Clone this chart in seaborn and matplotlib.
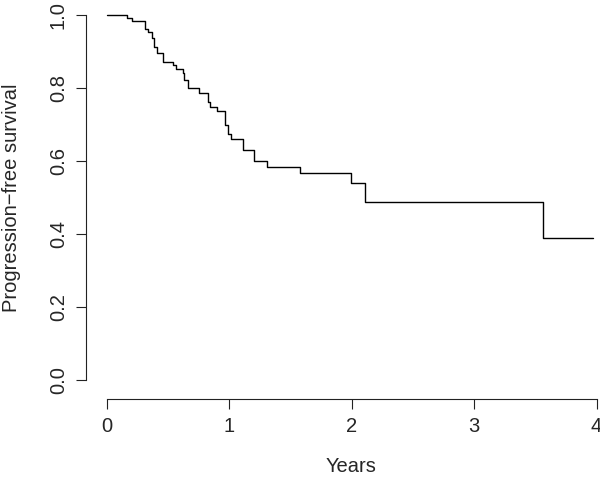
import matplotlib
matplotlib.use("Agg")
import matplotlib.pyplot as plt
import seaborn as sns
import pandas as pd

# Kaplan-Meier step values
years = [0.0, 0.165, 0.21, 0.314, 0.341, 0.37, 0.385, 0.41, 0.459, 0.54, 0.567,
         0.622, 0.635, 0.668, 0.758, 0.831, 0.845, 0.904, 0.967, 0.994, 1.014,
         1.117, 1.204, 1.308, 1.58, 1.996, 2.11, 3.566, 3.97]
survival = [1.0, 0.991, 0.984, 0.963, 0.954, 0.936, 0.913, 0.895, 0.872, 0.863, 0.851,
            0.840, 0.822, 0.799, 0.785, 0.762, 0.749, 0.738, 0.700, 0.673, 0.659,
            0.630, 0.601, 0.584, 0.566, 0.541, 0.487, 0.390, 0.390]
x_ticks = [0, 1, 2, 3, 4]
y_ticks = [0.0, 0.2, 0.4, 0.6, 0.8, 1.0]

sns.set_style("ticks")
plt.rcParams['font.family'] = ['Liberation Sans', 'DejaVu Sans']

df = pd.DataFrame({"Years": years, "PFS": survival})

W, H = 600, 480
fig = plt.figure(figsize=(W / 100, H / 100), dpi=100)
# axes box: x 0->106.5px, 4->596.5px ; y 0->380px, 1->15px (from top)
ax = fig.add_axes([106.5 / W, (H - 380) / H, 490 / W, 365 / H])

sns.lineplot(data=df, x="Years", y="PFS", drawstyle="steps-post", color="black",
             linewidth=1.0, estimator=None, ax=ax)
for ln in ax.lines:
    ln.set_clip_on(False)

ax.set_xlim(0, 4)
ax.set_ylim(0, 1)
ax.set_xticks(x_ticks)
ax.set_xticklabels([str(t) for t in x_ticks])
ax.set_yticks(y_ticks)
ax.set_yticklabels([f"{t:.1f}" for t in y_ticks])

for s in ["top", "right"]:
    ax.spines[s].set_visible(False)
ax.spines["left"].set_position(("outward", 20.5 * 0.72))
ax.spines["bottom"].set_position(("outward", 19 * 0.72))
ax.spines["left"].set_bounds(0, 1)
ax.spines["bottom"].set_bounds(0, 4)
for s in ["left", "bottom"]:
    ax.spines[s].set_linewidth(0.8)
    ax.spines[s].set_color("#222222")

ax.tick_params(axis="both", direction="out", length=7, width=0.8, color="#222222",
               labelsize=14.5, pad=6)
ax.tick_params(axis="y", labelrotation=90)
for lab in ax.get_yticklabels():
    lab.set_verticalalignment("center")

ax.set_xlabel("Years", fontsize=14.5)
ax.set_ylabel("Progression\u2212free survival", fontsize=14.5)
ax.xaxis.set_label_coords(0.5, (380 - 457) / 365)
ax.yaxis.set_label_coords((21 - 106.5) / 490, 0.5)

fig.savefig("out.png", dpi=100)
